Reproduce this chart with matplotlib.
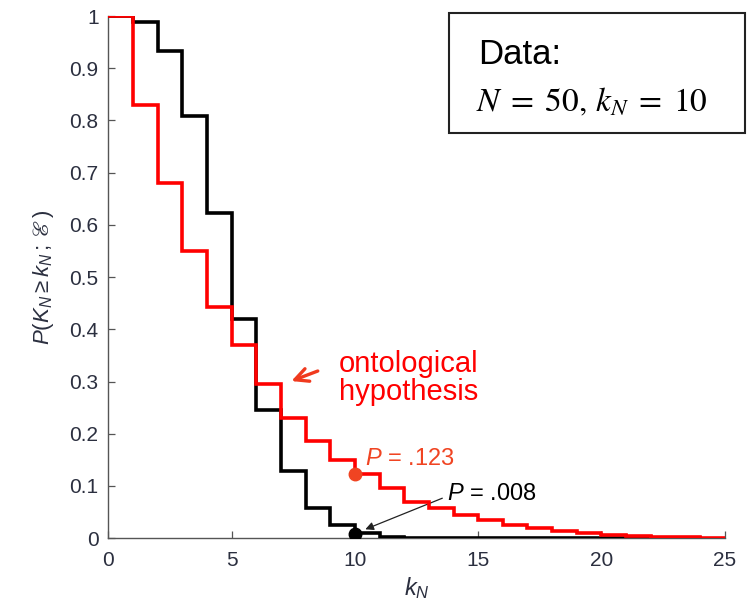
import numpy as np
import matplotlib.pyplot as plt
from matplotlib.patches import Rectangle

plt.rcParams['font.family'] = ['Liberation Sans', 'DejaVu Sans']
plt.rcParams['mathtext.fontset'] = 'custom'
plt.rcParams['mathtext.it'] = 'Liberation Sans:italic'
plt.rcParams['mathtext.rm'] = 'Liberation Sans'
plt.rcParams['mathtext.fallback'] = 'stix'

# survival curves P(K_N >= k_N), one value per integer step
black_edges = np.arange(0, 25)
black_vals = [1.0, 0.988, 0.933, 0.808, 0.622, 0.420, 0.245, 0.129, 0.058,
              0.025, 0.009, 0.0025, 0.0008, 0.0005, 0.0004, 0.0003, 0.0003,
              0.0002, 0.0002, 0.0002, 0.0001, 0.0001, 0.0001, 0.0001]
red_edges = np.arange(0, 26)
red_vals = [1.0, 0.829, 0.680, 0.550, 0.442, 0.370, 0.296, 0.231, 0.187,
            0.150, 0.123, 0.097, 0.070, 0.057, 0.045, 0.034, 0.026, 0.019,
            0.013, 0.009, 0.006, 0.004, 0.002, 0.0015, 0.0008]

k_obs = 10
p_red = 0.123
p_black = 0.008

tick_col = '#2b2f3f'

fig = plt.figure(figsize=(7.49, 6.04), dpi=100)
ax = fig.add_axes([0.1446, 0.109, 0.823, 0.8645])

ax.stairs(black_vals, black_edges, color='black', lw=2.6, zorder=3,
          baseline=None)
ax.stairs(red_vals, red_edges, color='#ff0000', lw=2.6, zorder=4,
          baseline=None)

ax.plot(k_obs, p_red, 'o', color='#f04422', ms=9, zorder=5)
ax.plot(k_obs, p_black, 'o', color='black', ms=9, zorder=5)

ax.set_xlim(0, 25)
ax.set_ylim(0, 1)
ax.set_xticks(np.arange(0, 26, 5))
ax.set_yticks(np.arange(0, 1.01, 0.1))
ax.set_yticklabels(['0', '0.1', '0.2', '0.3', '0.4', '0.5', '0.6', '0.7',
                    '0.8', '0.9', '1'])
ax.tick_params(direction='in', length=5, width=0.9, color='#555555',
               labelsize=15, labelcolor=tick_col)
ax.tick_params(axis='y', pad=7)
ax.tick_params(axis='x', pad=9)
ax.spines['top'].set_visible(False)
ax.spines['right'].set_visible(False)
for s in ['left', 'bottom']:
    ax.spines[s].set_color('#555555')
    ax.spines[s].set_linewidth(1.0)

ax.set_ylabel('$P(K_N \\geq k_N\\,;\\,\u2130\\,)$', fontsize=16,
              color=tick_col, labelpad=10)
ax.set_xlabel(r'$k_N$', fontsize=17, color=tick_col, labelpad=4)

# annotations
ax.text(9.35, 0.307, 'ontological\nhypothesis', color='#ff0000',
        fontsize=21, linespacing=1.0, va='center')
ax.annotate('', xy=(7.32, 0.299), xytext=(8.6, 0.322),
            arrowprops=dict(arrowstyle='->', color='#f03a1e', lw=2.4,
                            mutation_scale=24))
ax.text(10.4, 0.140, r'$P$ = .123', color='#f04422', fontsize=17)
ax.text(13.73, 0.073, r'$P$ = .008', color='black', fontsize=17)
ax.annotate('', xy=(10.32, 0.015), xytext=(13.65, 0.0785),
            arrowprops=dict(arrowstyle='-|>', color='#222222', lw=0.9,
                            mutation_scale=12))

# data box
fig.patches.append(Rectangle((449 / 749, 1 - 133 / 604), 296 / 749,
                             120 / 604, transform=fig.transFigure,
                             facecolor='white', edgecolor='#222222', lw=1.5))
fig.text(478 / 749, 1 - 64 / 604, 'Data:', fontsize=25, color='black')
fig.text(476 / 749, 1 - 110 / 604, r'$N\;=\;50,\,k_N\;=\;10$', fontsize=24,
         color='black', math_fontfamily='stix')

fig.savefig('out.png', dpi=100)
